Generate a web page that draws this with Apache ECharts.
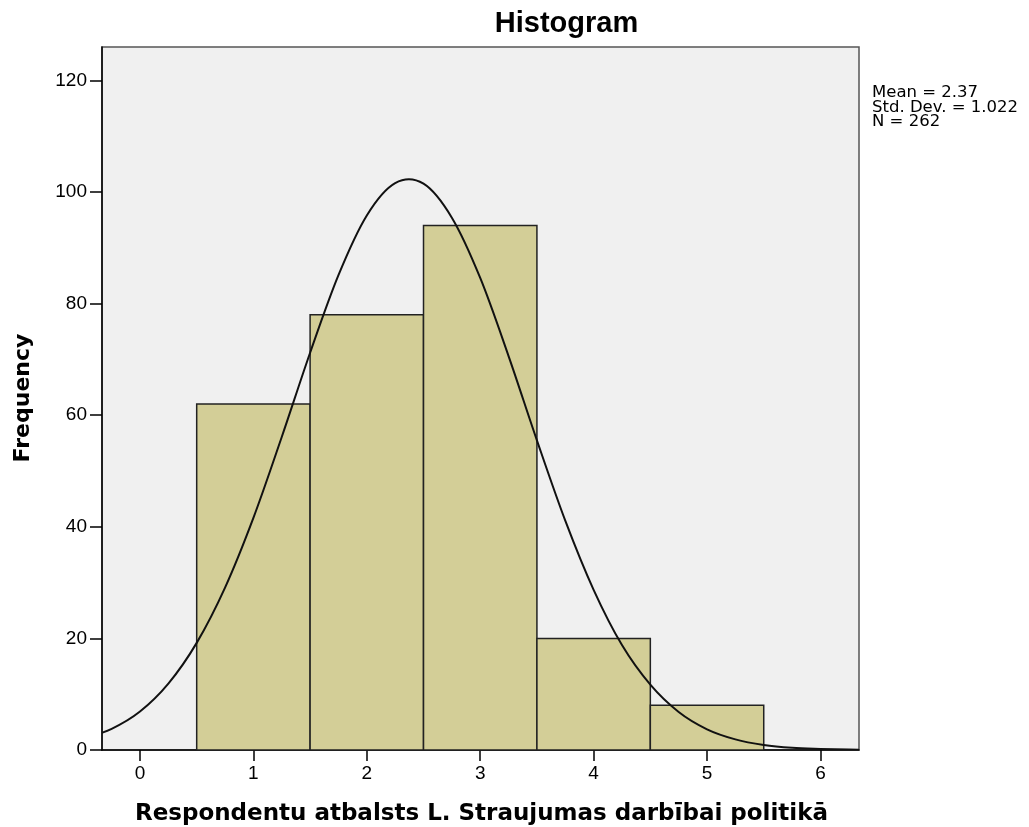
<!DOCTYPE html>
<html>
<head>
<meta charset="utf-8">
<script src="https://cdn.jsdelivr.net/npm/echarts@6/dist/echarts.min.js"></script>
<style>
html,body{margin:0;padding:0;background:#fff;}
#chart{width:1029px;height:827px;}
</style>
</head>
<body>
<div id="chart"></div>
<script>
// Histogram bins (lower edge, upper edge) and frequencies
const binStart = [0.5, 1.5, 2.5, 3.5, 4.5];
const binEnd   = [1.5, 2.5, 3.5, 4.5, 5.5];
const frequency = [62, 78, 94, 20, 8];

// Normal curve points
const curveX = [-0.5, -0.25, 0, 0.25, 0.5, 0.75, 1, 1.25, 1.5, 1.75, 2, 2.25, 2.5, 2.75, 3, 3.25, 3.5, 3.75, 4, 4.25, 4.5, 4.75, 5, 5.25, 5.5, 5.75, 6, 6.25, 6.5];
const curveY = [2.0, 3.8, 6.9, 11.9, 19.2, 29.1, 41.6, 56.1, 71.2, 85.1, 95.8, 101.6, 101.5, 95.4, 84.6, 70.6, 55.5, 41.1, 28.7, 18.8, 11.7, 6.8, 3.7, 1.9, 0.9, 0.4, 0.2, 0.08, 0.03];

const xTicks = [0, 1, 2, 3, 4, 5, 6];
const yTicks = [0, 20, 40, 60, 80, 100, 120];

const titleText = 'Histogram';
const xName = 'Respondentu atbalsts L. Straujumas darbībai politikā';
const yName = 'Frequency';
const statsLines = ['Mean = 2.37', 'Std. Dev. = 1.022', 'N = 262'];

const chart = echarts.init(document.getElementById('chart'), null, {renderer: 'canvas'});

const barData = binStart.map((s, i) => [s, binEnd[i], frequency[i]]);
const lineData = curveX.map((x, i) => [x, curveY[i]]);

// Smooth curve (Catmull-Rom) through the points, positioned by the axes
function renderCurve(params, api) {
  if (params.dataIndex !== 0) return null;
  const pts = lineData.map(d => api.coord(d));
  const n = pts.length;
  let path = 'M' + pts[0][0] + ' ' + pts[0][1];
  for (let i = 0; i < n - 1; i++) {
    const p0 = pts[Math.max(i - 1, 0)];
    const p1 = pts[i];
    const p2 = pts[i + 1];
    const p3 = pts[Math.min(i + 2, n - 1)];
    const c1x = p1[0] + (p2[0] - p0[0]) / 6, c1y = p1[1] + (p2[1] - p0[1]) / 6;
    const c2x = p2[0] - (p3[0] - p1[0]) / 6, c2y = p2[1] - (p3[1] - p1[1]) / 6;
    path += ' C' + c1x + ' ' + c1y + ' ' + c2x + ' ' + c2y + ' ' + p2[0] + ' ' + p2[1];
  }
  return {
    type: 'path',
    shape: {pathData: path},
    style: {fill: null, stroke: '#111', lineWidth: 2}
  };
}

const option = {
  animation: false,
  backgroundColor: '#ffffff',
  graphic: [
    {
      type: 'text', x: 566.5, y: 24,
      style: {text: titleText, fontFamily: 'Liberation Sans', fontWeight: 'bold', fontSize: 29, fill: '#000', align: 'center', verticalAlign: 'middle'}
    },
    {
      type: 'text', x: 872, y: 86,
      style: {text: statsLines.join('\n'), fontFamily: 'DejaVu Sans', fontSize: 16.5, lineHeight: 14.3, fill: '#000', align: 'left', verticalAlign: 'top'}
    },
    {
      type: 'text', x: 481.5, y: 814,
      style: {text: xName, fontFamily: 'DejaVu Sans', fontWeight: 'bold', fontSize: 23, fill: '#000', align: 'center', verticalAlign: 'middle'}
    },
    {
      type: 'text', x: 23, y: 398, rotation: Math.PI / 2,
      style: {text: yName, fontFamily: 'DejaVu Sans', fontWeight: 'bold', fontSize: 22, fill: '#000', align: 'center', verticalAlign: 'middle'}
    }
  ],
  grid: {
    left: 102, top: 47, width: 757, height: 703,
    show: true, backgroundColor: '#f0f0f0', borderColor: '#555', borderWidth: 1.5
  },
  xAxis: {
    type: 'value', min: -0.335, max: 6.34,
    axisLine: {show: true, onZero: false, lineStyle: {color: '#000', width: 1.5}},
    axisTick: {show: true, length: 11, lineStyle: {color: '#000', width: 1.5}, customValues: xTicks},
    axisLabel: {customValues: xTicks, fontFamily: 'Liberation Sans', fontSize: 19, color: '#000', margin: 14},
    splitLine: {show: false}
  },
  yAxis: {
    type: 'value', min: 0, max: 126,
    axisLine: {show: true, onZero: false, lineStyle: {color: '#000', width: 1.5}},
    axisTick: {show: true, length: 12, lineStyle: {color: '#000', width: 1.5}, customValues: yTicks},
    axisLabel: {customValues: yTicks, fontFamily: 'Liberation Sans', fontSize: 19, color: '#000', margin: 15},
    splitLine: {show: false}
  },
  series: [
    {
      type: 'custom',
      data: barData,
      encode: {x: [0, 1], y: 2},
      renderItem: function (params, api) {
        const p0 = api.coord([api.value(0), api.value(2)]);
        const p1 = api.coord([api.value(1), 0]);
        return {
          type: 'rect',
          shape: {x: p0[0], y: p0[1], width: p1[0] - p0[0], height: p1[1] - p0[1]},
          style: {fill: '#d3ce97', stroke: '#222', lineWidth: 1.5}
        };
      },
      z: 2
    },
    {
      type: 'custom',
      data: lineData,
      encode: {x: 0, y: 1},
      renderItem: renderCurve,
      clip: true,
      z: 3
    }
  ]
};
chart.setOption(option);
</script>
</body>
</html>
